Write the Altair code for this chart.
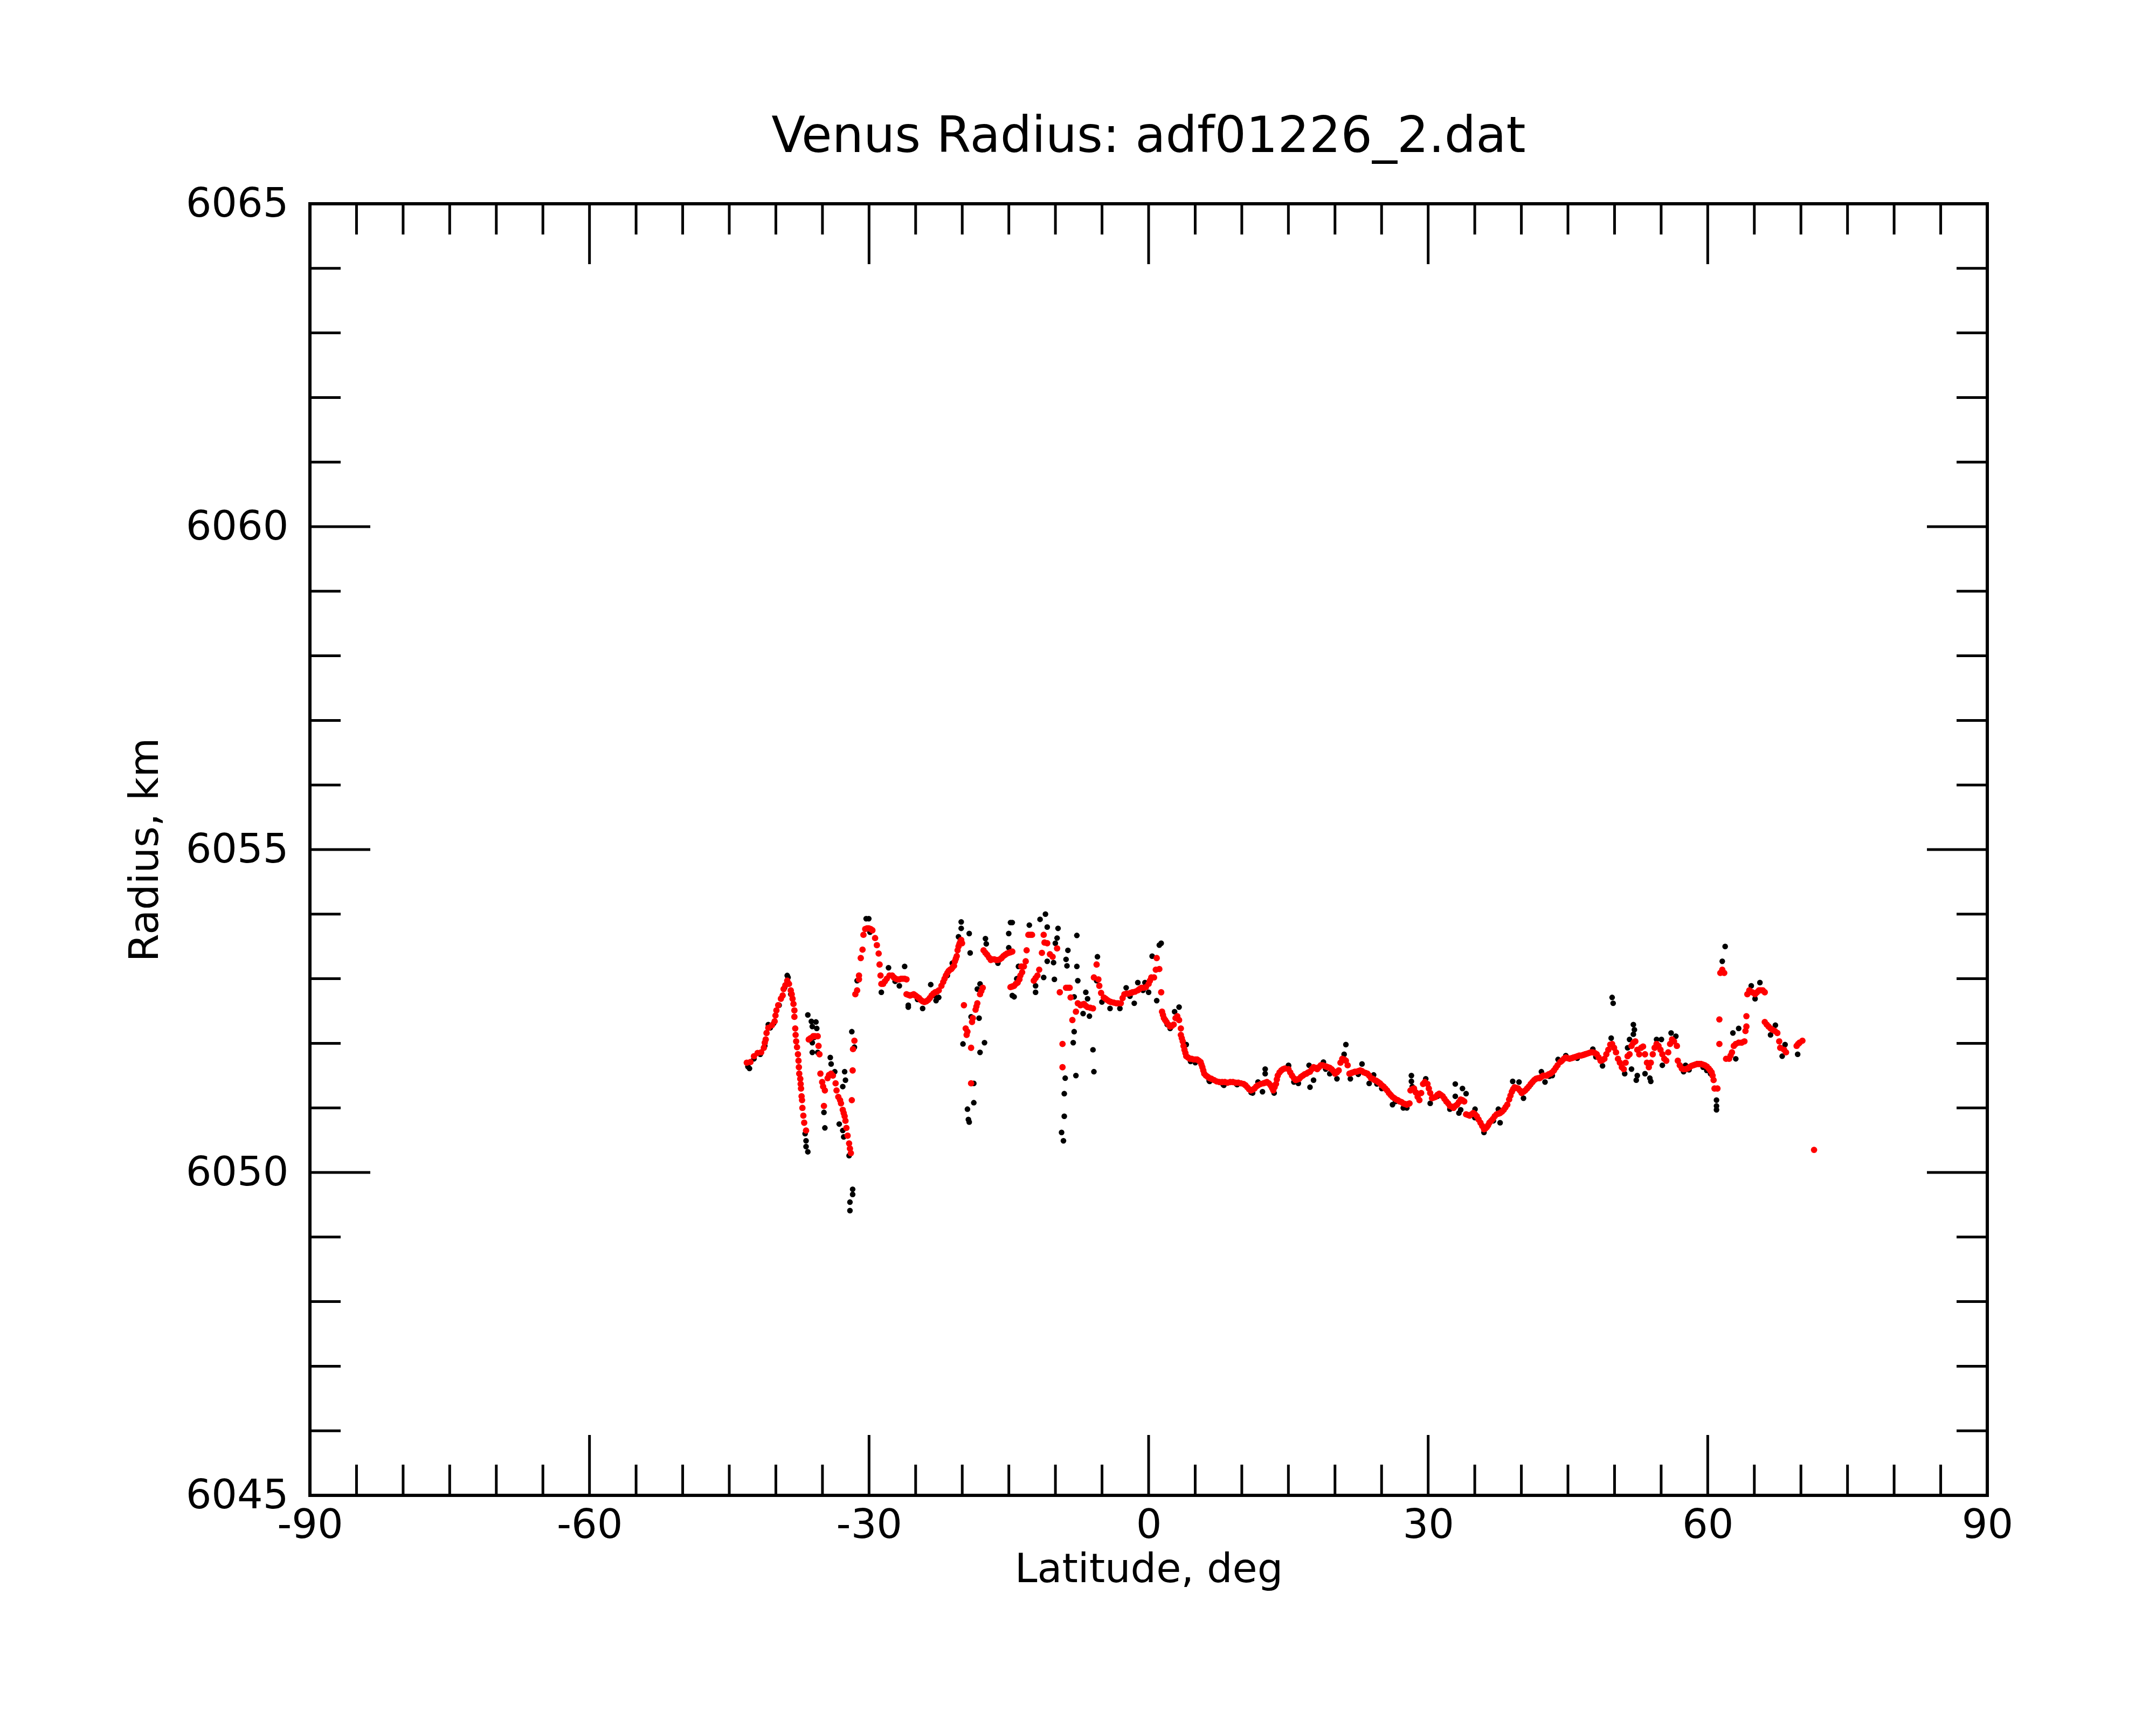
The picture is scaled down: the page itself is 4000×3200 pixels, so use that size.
import altair as alt
import pandas as pd

# ---------------- data ----------------
# smoothed (red) profile: (latitude deg, radius km)
red_south = [
    (-43.12, 6051.70), (-42.73, 6051.71), (-42.35, 6051.80), (-41.96, 6051.85), (-41.58, 6051.86),
    (-41.29, 6051.93), (-41.19, 6052.01), (-41.09, 6052.06), (-41.00, 6052.16), (-40.81, 6052.24),
    (-40.42, 6052.28), (-40.13, 6052.34), (-40.04, 6052.43), (-39.94, 6052.51), (-39.75, 6052.59),
    (-39.46, 6052.69), (-39.27, 6052.74), (-39.17, 6052.84), (-38.98, 6052.90), (-38.78, 6052.97),
    (-38.59, 6052.92), (-38.40, 6052.82), (-38.30, 6052.76), (-38.21, 6052.69), (-38.11, 6052.61),
    (-38.01, 6052.51), (-38.01, 6052.41), (-37.92, 6052.23), (-37.88, 6052.13), (-37.82, 6052.03),
    (-37.73, 6051.94), (-37.63, 6051.83), (-37.57, 6051.73), (-37.53, 6051.63), (-37.49, 6051.53),
    (-37.38, 6051.45), (-37.34, 6051.37), (-37.30, 6051.30), (-37.24, 6051.18), (-37.19, 6051.12),
    (-37.15, 6051.00), (-37.05, 6050.88), (-36.96, 6050.77), (-36.76, 6050.65),
    (-36.47, 6052.06), (-36.28, 6052.08), (-35.99, 6052.11), (-35.80, 6052.11), (-35.51, 6052.11),
    (-35.42, 6051.96), (-35.32, 6051.83), (-35.22, 6051.53), (-35.03, 6051.40), (-34.93, 6051.33),
    (-34.74, 6051.27), (-34.84, 6051.03), (-34.45, 6051.46), (-34.30, 6051.51), (-34.07, 6051.53),
    (-33.88, 6051.50), (-33.59, 6051.38), (-33.49, 6051.27), (-33.30, 6051.17), (-33.11, 6051.12),
    (-33.01, 6051.07), (-32.82, 6050.97), (-32.72, 6050.92), (-32.62, 6050.87), (-32.53, 6050.80),
    (-32.43, 6050.69), (-32.30, 6050.57), (-32.14, 6050.45), (-32.05, 6050.37), (-31.95, 6050.30),
    (-31.85, 6051.12), (-31.76, 6051.58), (-31.72, 6051.91), (-31.57, 6052.04),
]
red_peaks = [
    (-31.47, 6052.76), (-31.28, 6052.82), (-31.08, 6052.99), (-31.08, 6053.05), (-30.89, 6053.32),
    (-30.70, 6053.45), (-30.60, 6053.68), (-30.41, 6053.77), (-30.22, 6053.78), (-30.03, 6053.78),
    (-29.83, 6053.77), (-29.64, 6053.75), (-29.35, 6053.63), (-29.16, 6053.52), (-28.97, 6053.39),
    (-28.87, 6053.22), (-28.77, 6053.05), (-28.68, 6052.92), (-28.49, 6052.92), (-28.30, 6052.96),
    (-28.10, 6053.00), (-27.81, 6053.05), (-27.52, 6053.05), (-27.33, 6053.02), (-27.14, 6053.00),
    (-26.95, 6052.99), (-26.75, 6052.99), (-26.56, 6053.00), (-26.37, 6053.00), (-26.18, 6053.00),
    (-25.98, 6052.99), (-25.98, 6052.76), (-25.79, 6052.75), (-25.60, 6052.74), (-25.40, 6052.75),
    (-25.21, 6052.76), (-25.02, 6052.74), (-24.83, 6052.72), (-24.64, 6052.70), (-24.44, 6052.67),
    (-24.25, 6052.65), (-24.06, 6052.64), (-23.86, 6052.65), (-23.67, 6052.67), (-23.48, 6052.70),
    (-23.29, 6052.74), (-23.10, 6052.77), (-22.90, 6052.79), (-22.71, 6052.80), (-22.52, 6052.82),
    (-22.23, 6052.89), (-22.04, 6052.95), (-21.90, 6053.00), (-21.75, 6053.05), (-21.60, 6053.09),
    (-21.46, 6053.12), (-21.31, 6053.14), (-21.17, 6053.15), (-21.02, 6053.18), (-20.88, 6053.20),
    (-20.79, 6053.27), (-20.69, 6053.31), (-20.59, 6053.35), (-20.50, 6053.44), (-20.40, 6053.50),
    (-20.30, 6053.54), (-20.21, 6053.57), (-20.11, 6053.60), (-20.02, 6053.55),
    (-19.82, 6052.59), (-19.63, 6052.23), (-19.53, 6052.13), (-19.44, 6052.18), (-19.05, 6051.93),
    (-19.05, 6051.38), (-18.95, 6052.33), (-18.86, 6052.39), (-18.57, 6052.52), (-18.48, 6052.57),
    (-18.38, 6052.62), (-18.09, 6052.76), (-17.95, 6052.81), (-17.80, 6052.86),
    (-17.71, 6053.44), (-17.51, 6053.40), (-17.32, 6053.37), (-17.13, 6053.33), (-16.94, 6053.29),
    (-16.75, 6053.30), (-16.55, 6053.30), (-16.36, 6053.29), (-16.17, 6053.29), (-15.97, 6053.30),
    (-15.78, 6053.32), (-15.59, 6053.35), (-15.40, 6053.37), (-15.20, 6053.39), (-15.01, 6053.40),
    (-14.82, 6053.41), (-14.63, 6053.42),
    (-14.82, 6052.87), (-14.63, 6052.88), (-14.43, 6052.89), (-14.25, 6052.92), (-14.05, 6052.94),
    (-13.86, 6052.99), (-13.76, 6053.05), (-13.66, 6053.19), (-13.57, 6053.10), (-13.38, 6053.19),
    (-13.19, 6053.27), (-13.09, 6053.44), (-12.90, 6053.68), (-12.70, 6053.68), (-12.51, 6053.68),
    (-12.32, 6052.97), (-12.13, 6053.01), (-11.93, 6053.05), (-11.74, 6053.14), (-11.45, 6053.40),
    (-11.26, 6053.68), (-11.17, 6053.56), (-10.88, 6053.55), (-10.59, 6053.38), (-10.30, 6053.34),
    (-9.82, 6053.47), (-9.53, 6052.79), (-9.24, 6051.99), (-9.24, 6051.63), (-8.86, 6052.86),
    (-8.66, 6052.86), (-8.47, 6052.86), (-8.37, 6052.71), (-8.18, 6052.36), (-7.80, 6052.49),
    (-7.60, 6052.62), (-7.31, 6052.59), (-7.12, 6052.60), (-6.93, 6052.61), (-6.74, 6052.58),
    (-6.55, 6052.56), (-6.26, 6052.55), (-5.97, 6052.54), (-5.87, 6053.02), (-5.58, 6053.22),
    (-5.39, 6052.99), (-5.29, 6052.89), (-5.10, 6052.78), (-4.81, 6052.71), (-4.62, 6052.69),
    (-4.43, 6052.67), (-4.23, 6052.65), (-4.04, 6052.64), (-3.75, 6052.63), (-3.47, 6052.62),
    (-3.27, 6052.62), (-2.98, 6052.62), (-2.79, 6052.70), (-2.60, 6052.76), (-2.36, 6052.77),
    (-2.12, 6052.77), (-1.93, 6052.78), (-1.73, 6052.79), (-1.45, 6052.80), (-1.16, 6052.82),
    (-0.97, 6052.84), (-0.77, 6052.86), (-0.53, 6052.86), (-0.29, 6052.87), (0.00, 6052.92),
    (0.14, 6052.97), (0.29, 6053.02), (0.58, 6053.02), (0.77, 6053.14), (0.87, 6053.32),
    (1.15, 6053.15), (1.35, 6052.79),
]
red_middle = [
    (1.44, 6052.49), (1.54, 6052.44), (1.64, 6052.39), (1.78, 6052.36), (1.92, 6052.33),
    (2.12, 6052.29), (2.31, 6052.26), (2.50, 6052.27), (2.69, 6052.29), (2.89, 6052.39),
    (3.08, 6052.42), (3.27, 6052.36), (3.46, 6052.23), (3.46, 6052.13), (3.56, 6052.08),
    (3.66, 6052.03), (3.75, 6051.96), (3.85, 6051.90), (3.95, 6051.85), (4.04, 6051.80),
    (4.23, 6051.78), (4.43, 6051.76), (4.62, 6051.76), (4.81, 6051.75), (5.01, 6051.75),
    (5.20, 6051.75), (5.39, 6051.73), (5.58, 6051.71), (5.67, 6051.67), (5.77, 6051.63),
    (5.87, 6051.58), (5.97, 6051.53), (6.16, 6051.50), (6.35, 6051.48), (6.55, 6051.46),
    (6.74, 6051.45), (7.02, 6051.43), (7.31, 6051.41), (7.60, 6051.40), (7.89, 6051.40),
    (8.18, 6051.40), (8.47, 6051.39), (8.76, 6051.40), (9.05, 6051.40), (9.33, 6051.39),
    (9.62, 6051.39), (9.91, 6051.38), (10.20, 6051.37), (10.40, 6051.35), (10.59, 6051.32),
    (10.78, 6051.29), (10.97, 6051.27), (11.16, 6051.28), (11.36, 6051.30), (11.55, 6051.33),
    (11.74, 6051.35), (12.03, 6051.37), (12.32, 6051.38), (12.51, 6051.39), (12.70, 6051.40),
    (12.90, 6051.38), (13.09, 6051.35), (13.24, 6051.31), (13.38, 6051.27), (13.52, 6051.32),
    (13.67, 6051.37), (13.76, 6051.44), (13.86, 6051.50), (14.05, 6051.55), (14.24, 6051.58),
    (14.43, 6051.60), (14.63, 6051.61), (15.01, 6051.60), (15.20, 6051.55), (15.39, 6051.50),
    (15.59, 6051.46), (15.78, 6051.43), (15.97, 6051.44), (16.16, 6051.45), (16.35, 6051.48),
    (16.55, 6051.50), (16.74, 6051.52), (16.93, 6051.53), (17.13, 6051.55), (17.32, 6051.56),
    (17.51, 6051.60), (17.70, 6051.63), (17.90, 6051.62), (18.09, 6051.60), (18.28, 6051.63),
    (18.47, 6051.66), (18.67, 6051.66), (18.86, 6051.65), (19.05, 6051.64), (19.24, 6051.63),
    (19.44, 6051.62), (19.63, 6051.60), (19.82, 6051.57), (20.01, 6051.53), (20.21, 6051.55),
    (20.40, 6051.58), (20.59, 6051.70), (20.78, 6051.76), (20.98, 6051.75), (21.17, 6051.73),
    (21.36, 6051.66), (21.55, 6051.53), (21.75, 6051.54), (21.94, 6051.55), (22.13, 6051.56),
    (22.32, 6051.56), (22.52, 6051.57), (22.71, 6051.58), (22.90, 6051.57), (23.09, 6051.55),
    (23.29, 6051.54), (23.48, 6051.53), (23.67, 6051.50), (23.86, 6051.46), (24.06, 6051.45),
    (24.25, 6051.43), (24.44, 6051.42), (24.63, 6051.40), (24.83, 6051.38), (25.02, 6051.35),
    (25.21, 6051.33), (25.40, 6051.30), (25.60, 6051.27), (25.79, 6051.23), (25.98, 6051.20),
    (26.17, 6051.17), (26.37, 6051.15), (26.56, 6051.13), (26.75, 6051.12), (26.94, 6051.10),
    (27.14, 6051.09), (27.33, 6051.07), (27.52, 6051.06), (27.71, 6051.05), (27.85, 6051.06),
    (28.00, 6051.07), (28.10, 6051.27), (28.29, 6051.29), (28.48, 6051.30), (28.67, 6051.24),
    (28.87, 6051.17), (29.06, 6051.12), (29.25, 6051.23), (29.45, 6051.37), (29.64, 6051.40),
    (29.93, 6051.37), (30.07, 6051.30), (30.22, 6051.23), (30.41, 6051.15), (30.60, 6051.16),
    (30.79, 6051.17), (30.98, 6051.20), (31.18, 6051.22), (31.37, 6051.20), (31.56, 6051.18),
    (31.75, 6051.14), (31.95, 6051.10), (32.14, 6051.07), (32.33, 6051.03), (32.52, 6051.02),
    (32.72, 6051.00), (32.91, 6051.03), (33.10, 6051.05), (33.30, 6051.09), (33.49, 6051.13),
    (33.68, 6051.12), (33.87, 6051.10), (34.07, 6050.90), (34.26, 6050.89), (34.45, 6050.88),
    (34.64, 6050.90), (34.84, 6050.92), (35.03, 6050.90), (35.22, 6050.87), (35.41, 6050.82),
    (35.61, 6050.77), (35.80, 6050.72), (35.99, 6050.67), (36.14, 6050.68), (36.28, 6050.70),
    (36.43, 6050.73), (36.57, 6050.77), (36.76, 6050.80), (36.95, 6050.83), (37.14, 6050.87),
    (37.34, 6050.90), (37.53, 6050.91), (37.72, 6050.92), (37.91, 6050.94), (38.11, 6050.97),
    (38.30, 6051.01), (38.49, 6051.05), (38.69, 6051.13), (38.83, 6051.19), (38.98, 6051.25),
    (39.12, 6051.29), (39.26, 6051.32), (39.46, 6051.31), (39.65, 6051.30), (39.84, 6051.27),
    (40.03, 6051.23), (40.23, 6051.25), (40.42, 6051.27), (40.61, 6051.30), (40.80, 6051.33),
    (41.00, 6051.37), (41.19, 6051.40), (41.38, 6051.43), (41.57, 6051.45), (41.77, 6051.46),
    (41.96, 6051.46), (42.15, 6051.48), (42.34, 6051.50), (42.54, 6051.50), (42.73, 6051.50),
    (42.92, 6051.52), (43.11, 6051.53), (43.30, 6051.55), (43.50, 6051.58), (43.69, 6051.62),
    (43.88, 6051.66), (44.17, 6051.71),
]
red_north = [
    (44.35, 6051.73), (44.56, 6051.76), (44.77, 6051.78), (44.98, 6051.77), (45.18, 6051.76),
    (45.39, 6051.77), (45.60, 6051.78), (45.81, 6051.79), (46.01, 6051.80), (46.22, 6051.81),
    (46.43, 6051.81), (46.64, 6051.82), (46.84, 6051.83), (47.05, 6051.84), (47.26, 6051.85),
    (47.47, 6051.86), (47.67, 6051.86), (47.88, 6051.85), (48.09, 6051.83), (48.30, 6051.78),
    (48.50, 6051.73), (48.71, 6051.74), (48.91, 6051.76), (49.12, 6051.83), (49.33, 6051.90),
    (49.54, 6051.98), (49.74, 6051.99), (49.95, 6051.93), (50.16, 6051.86), (50.37, 6051.76),
    (50.57, 6051.70), (50.78, 6051.63), (50.99, 6051.60), (51.19, 6051.70), (51.40, 6051.80),
    (51.61, 6051.83), (51.82, 6051.96), (52.02, 6052.01), (52.23, 6052.03), (52.44, 6051.90),
    (52.65, 6051.83), (52.85, 6051.93), (53.06, 6051.95), (53.27, 6051.83), (53.48, 6051.70),
    (53.68, 6051.63), (53.89, 6051.70), (54.10, 6051.83), (54.30, 6051.93), (54.51, 6051.99),
    (54.72, 6051.96), (54.93, 6051.90), (55.13, 6051.83), (55.34, 6051.76), (55.55, 6051.73),
    (55.76, 6051.86), (55.96, 6051.99), (56.17, 6052.06), (56.38, 6052.03), (56.69, 6051.96),
    (56.79, 6051.73), (57.00, 6051.66), (57.21, 6051.61), (57.41, 6051.60), (57.62, 6051.60),
    (57.83, 6051.61), (58.04, 6051.63), (58.25, 6051.65), (58.45, 6051.66), (58.66, 6051.67),
    (58.86, 6051.68), (59.07, 6051.68), (59.28, 6051.68), (59.48, 6051.67), (59.69, 6051.66),
    (59.90, 6051.64), (60.11, 6051.61), (60.27, 6051.58), (60.42, 6051.55), (60.52, 6051.50),
    (60.63, 6051.43), (60.73, 6051.30), (61.04, 6051.30), (61.25, 6052.37), (61.25, 6051.99),
    (61.35, 6053.09), (61.56, 6053.14), (61.77, 6053.09), (61.97, 6051.76), (62.29, 6051.76),
    (62.45, 6051.81), (62.60, 6051.86), (62.80, 6051.96), (63.01, 6051.99), (63.32, 6052.01),
    (63.63, 6052.01), (63.94, 6052.03), (64.05, 6052.19), (64.15, 6052.26), (64.15, 6052.42),
    (64.25, 6052.76), (64.46, 6052.82), (64.77, 6052.79), (65.08, 6052.76), (65.29, 6052.79),
    (65.50, 6052.82), (65.70, 6052.82), (65.91, 6052.82), (66.12, 6052.79), (66.12, 6052.33),
    (66.33, 6052.29), (66.53, 6052.26), (66.74, 6052.23), (66.95, 6052.21), (67.21, 6052.19),
    (67.47, 6052.16), (67.67, 6052.03), (67.78, 6051.93), (68.19, 6051.90), (68.40, 6051.86),
    (69.54, 6051.96), (69.70, 6051.99), (69.85, 6052.01), (70.16, 6052.04), (71.41, 6050.35),
]

# raw (black) measurements: (latitude deg, radius km)
black_south = [
    (-43.00, 6051.64), (-42.83, 6051.61), (-42.35, 6051.76), (-41.67, 6051.83), (-41.19, 6051.96),
    (-40.81, 6052.29), (-40.60, 6052.24), (-40.23, 6052.31), (-39.65, 6052.59), (-39.07, 6052.86),
    (-38.78, 6053.05), (-38.69, 6053.02), (-38.40, 6052.76), (-36.86, 6050.60), (-36.76, 6050.49),
    (-36.76, 6050.40), (-36.57, 6050.32), (-36.57, 6052.44), (-36.19, 6052.34), (-35.70, 6052.33),
    (-36.09, 6052.26), (-35.61, 6052.23), (-35.90, 6052.09), (-36.09, 6052.01), (-36.09, 6051.86),
    (-35.51, 6051.86), (-34.16, 6051.78), (-34.07, 6051.68), (-33.68, 6051.56), (-34.84, 6050.93),
    (-34.74, 6050.69), (-32.62, 6051.56), (-32.53, 6051.43), (-32.82, 6051.33), (-33.20, 6050.75),
    (-32.82, 6050.65), (-32.72, 6050.55), (-32.14, 6050.26), (-31.76, 6049.74), (-31.76, 6049.66),
    (-32.05, 6049.54), (-32.05, 6049.41), (-31.85, 6052.18), (-31.57, 6051.94), (-30.31, 6053.93),
    (-30.03, 6053.93), (-29.90, 6053.72), (-31.28, 6052.97), (-28.68, 6052.79), (-27.91, 6053.17),
    (-27.20, 6052.96), (-26.18, 6053.19), (-26.75, 6052.89), (-25.79, 6052.56), (-25.79, 6052.59),
    (-24.80, 6052.68), (-23.38, 6052.91), (-24.25, 6052.54), (-23.00, 6052.74), (-22.81, 6052.66),
    (-22.52, 6052.71), (-21.60, 6053.05), (-20.11, 6053.88), (-20.11, 6053.78), (-19.25, 6053.70),
    (-19.15, 6053.40), (-21.07, 6053.24), (-20.40, 6053.65), (-18.38, 6052.84), (-18.09, 6052.92),
    (-19.05, 6052.41), (-18.19, 6052.39), (-19.92, 6051.99), (-17.61, 6052.01), (-18.09, 6051.86),
    (-18.76, 6051.38), (-18.76, 6051.08), (-19.44, 6050.98), (-19.34, 6050.82), (-19.25, 6050.78),
    (-17.51, 6053.62), (-17.42, 6053.54), (-15.01, 6053.70), (-14.82, 6053.87), (-15.01, 6053.48),
    (-16.17, 6053.24), (-14.43, 6052.72), (-13.95, 6053.19), (-14.15, 6053.00),
]
black_middle = [
    (-14.63, 6053.87), (-14.63, 6052.74), (-13.96, 6053.19), (-12.80, 6053.83), (-11.65, 6053.92),
    (-11.07, 6054.00), (-10.88, 6053.80), (-9.72, 6053.78), (-9.82, 6053.63), (-10.01, 6053.55),
    (-10.20, 6053.25), (-10.88, 6053.27), (-12.13, 6052.89), (-12.13, 6052.79), (-11.26, 6053.02),
    (-8.66, 6053.44), (-8.86, 6053.30), (-8.76, 6053.20), (-7.70, 6053.67), (-7.70, 6053.19),
    (-7.60, 6052.97), (-10.11, 6052.99), (-7.99, 6052.72), (-6.74, 6052.79), (-6.55, 6052.69),
    (-7.03, 6052.46), (-6.35, 6052.42), (-7.99, 6052.18), (-8.09, 6052.01), (-7.80, 6051.50),
    (-8.95, 6051.46), (-9.05, 6051.22), (-9.05, 6050.87), (-9.34, 6050.62), (-9.14, 6050.49),
    (-5.97, 6051.90), (-5.87, 6051.56), (-5.49, 6053.34), (-5.58, 6052.97), (-5.01, 6052.64),
    (-4.14, 6052.54), (-3.08, 6052.54), (-2.41, 6052.86), (-2.00, 6052.73), (-1.54, 6052.62),
    (-1.16, 6052.94), (-0.60, 6052.82), (0.00, 6052.79), (-0.39, 6052.94), (0.38, 6053.35),
    (1.15, 6053.52), (1.35, 6053.55), (0.87, 6052.66), (2.00, 6052.29), (3.27, 6052.56),
    (2.79, 6052.49), (2.31, 6052.23), (4.04, 6051.98), (4.50, 6051.72), (5.01, 6051.70),
    (5.39, 6051.73), (6.50, 6051.42), (6.55, 6051.41), (8.00, 6051.36), (8.08, 6051.35),
    (9.43, 6051.37), (9.50, 6051.36), (11.00, 6051.24), (11.16, 6051.23), (11.74, 6051.40),
    (12.22, 6051.25), (12.51, 6051.60), (12.51, 6051.53), (13.47, 6051.23), (15.01, 6051.65),
    (15.01, 6051.66), (15.59, 6051.40), (16.00, 6051.41), (16.07, 6051.38), (17.22, 6051.66),
    (17.32, 6051.32), (17.70, 6051.43), (18.76, 6051.71), (19.00, 6051.60), (19.44, 6051.53),
    (20.21, 6051.45), (20.98, 6051.83), (21.17, 6051.98), (21.65, 6051.45), (22.50, 6051.52),
    (22.90, 6051.68), (23.67, 6051.38), (24.15, 6051.51), (24.50, 6051.37), (25.02, 6051.30),
    (26.17, 6051.05), (26.50, 6051.10), (27.33, 6051.00), (27.71, 6051.00), (28.20, 6051.50),
    (28.20, 6051.41), (28.29, 6051.33), (29.74, 6051.45), (30.22, 6051.07), (31.00, 6051.18),
    (32.33, 6050.98), (32.91, 6051.37), (32.91, 6051.18), (33.30, 6050.92), (33.49, 6050.97),
    (33.68, 6051.30), (34.07, 6051.22), (35.00, 6050.85), (35.03, 6050.98), (35.99, 6050.62),
    (37.00, 6050.80), (37.53, 6050.98), (37.72, 6050.77), (39.07, 6051.41), (39.75, 6051.40),
    (40.23, 6051.15), (41.00, 6051.36), (42.15, 6051.56), (42.54, 6051.40), (43.00, 6051.49),
    (44.08, 6051.73),
]
black_north = [
    (43.32, 6051.50), (43.94, 6051.75), (44.77, 6051.81), (46.00, 6051.77), (47.67, 6051.91),
    (48.00, 6051.79), (48.71, 6051.65), (49.74, 6052.71), (49.85, 6052.62), (49.64, 6052.08),
    (52.02, 6052.29), (52.13, 6052.21), (52.02, 6052.14), (51.61, 6052.06), (51.40, 6051.93),
    (51.82, 6051.60), (51.09, 6051.53), (52.44, 6051.50), (52.33, 6051.43), (53.79, 6051.46),
    (53.89, 6051.41), (53.27, 6051.53), (54.51, 6052.06), (55.03, 6052.06), (56.07, 6052.16),
    (56.58, 6052.11), (55.13, 6051.66), (57.41, 6051.56), (57.62, 6051.66), (58.00, 6051.59),
    (59.50, 6051.63), (59.90, 6051.58), (60.30, 6051.53), (60.94, 6051.12), (60.94, 6051.03),
    (60.94, 6050.97), (61.87, 6053.50), (61.56, 6053.27), (63.01, 6051.76), (62.70, 6052.16),
    (63.32, 6052.23), (64.67, 6052.89), (65.60, 6052.94), (65.08, 6052.69), (66.74, 6052.13),
    (67.26, 6052.28), (67.99, 6051.80), (68.30, 6051.98), (69.65, 6051.83), (69.75, 6051.99),
]

# axis ticks
x_labels = [-90, -60, -30, 0, 30, 60, 90]
x_minor = [-85, -80, -75, -70, -65, -55, -50, -45, -40, -35, -25, -20, -15, -10, -5,
           5, 10, 15, 20, 25, 35, 40, 45, 50, 55, 65, 70, 75, 80, 85]
x_major = [-60, -30, 0, 30, 60]
y_labels = [6045, 6050, 6055, 6060, 6065]
y_minor = [6046, 6047, 6048, 6049, 6051, 6052, 6053, 6054, 6056, 6057, 6058, 6059,
           6061, 6062, 6063, 6064]
y_major = [6050, 6055, 6060]

# ---------------- chart ----------------
W, H = 3112, 2396
FONT = "DejaVu Sans"
MINOR, MAJOR, TW = 57, 112, 5

red_df = pd.DataFrame(red_south + red_peaks + red_middle + red_north, columns=["lat", "rad"])
black_df = pd.DataFrame(black_south + black_middle + black_north, columns=["lat", "rad"])

xscale = alt.Scale(domain=[-90, 90], nice=False, zero=False)
yscale = alt.Scale(domain=[6045, 6065], nice=False, zero=False)

x_axis = alt.Axis(values=x_labels, labelExpr="datum.value + ''", ticks=False, tickSize=0,
                  domain=False, grid=False, labelFont=FONT, labelFontSize=75, labelColor="black",
                  labelPadding=78, labelBaseline="alphabetic", labelFlush=False, labelBound=False,
                  labelOverlap=False, labelLimit=0, title="Latitude, deg", titleFont=FONT,
                  titleFontSize=75, titleFontWeight="normal", titleColor="black",
                  titleBaseline="alphabetic", titleY=160, titleX=W / 2, titleAlign="center")
y_axis = alt.Axis(values=y_labels, labelExpr="datum.value + ''", ticks=False, tickSize=0,
                  domain=False, grid=False, labelFont=FONT, labelFontSize=75, labelColor="black",
                  labelPadding=40, labelAlign="right", labelBaseline="middle", labelFlush=False,
                  labelBound=False, labelOverlap=False, labelLimit=0, title="Radius, km",
                  titleFont=FONT, titleFontSize=75, titleFontWeight="normal", titleColor="black",
                  titleAngle=270, titleBaseline="alphabetic", titleAlign="center",
                  titleX=-283, titleY=H / 2)

X = alt.X("lat:Q", scale=xscale, axis=x_axis)
Y = alt.Y("rad:Q", scale=yscale, axis=y_axis)

black = alt.Chart(black_df).mark_circle(color="black", size=110, opacity=1).encode(x=X, y=Y)
red = alt.Chart(red_df).mark_circle(color="#ff0000", size=140, opacity=1).encode(x=X, y=Y)


def xticks(vals, length):
    d = pd.DataFrame({"lat": vals})
    base = alt.Chart(d).mark_rule(color="black", strokeWidth=TW)
    bottom = base.encode(x=X, y=alt.value(H), y2=alt.value(H - length))
    top = base.encode(x=X, y=alt.value(0), y2=alt.value(length))
    return [bottom, top]


def yticks(vals, length):
    d = pd.DataFrame({"rad": vals})
    base = alt.Chart(d).mark_rule(color="black", strokeWidth=TW)
    left = base.encode(y=Y, x=alt.value(0), x2=alt.value(length))
    right = base.encode(y=Y, x=alt.value(W), x2=alt.value(W - length))
    return [left, right]


layers = xticks(x_minor, MINOR) + xticks(x_major, MAJOR) + yticks(y_minor, MINOR) + yticks(y_major, MAJOR)

chart = alt.layer(black, red, *layers).properties(
    width=W,
    height=H,
    autosize=alt.AutoSizeParams(type="none"),
    padding={"left": 567, "top": 370, "right": 300, "bottom": 400},
    title=alt.TitleParams("Venus Radius: adf01226_2.dat", font=FONT, fontSize=92,
                          fontWeight="normal", color="black", anchor="middle", frame="group",
                          baseline="alphabetic", offset=-33),
    background="white",
).configure_view(stroke="black", strokeWidth=6)

chart.save("out.html", embed_options={"renderer": "svg", "actions": False})
